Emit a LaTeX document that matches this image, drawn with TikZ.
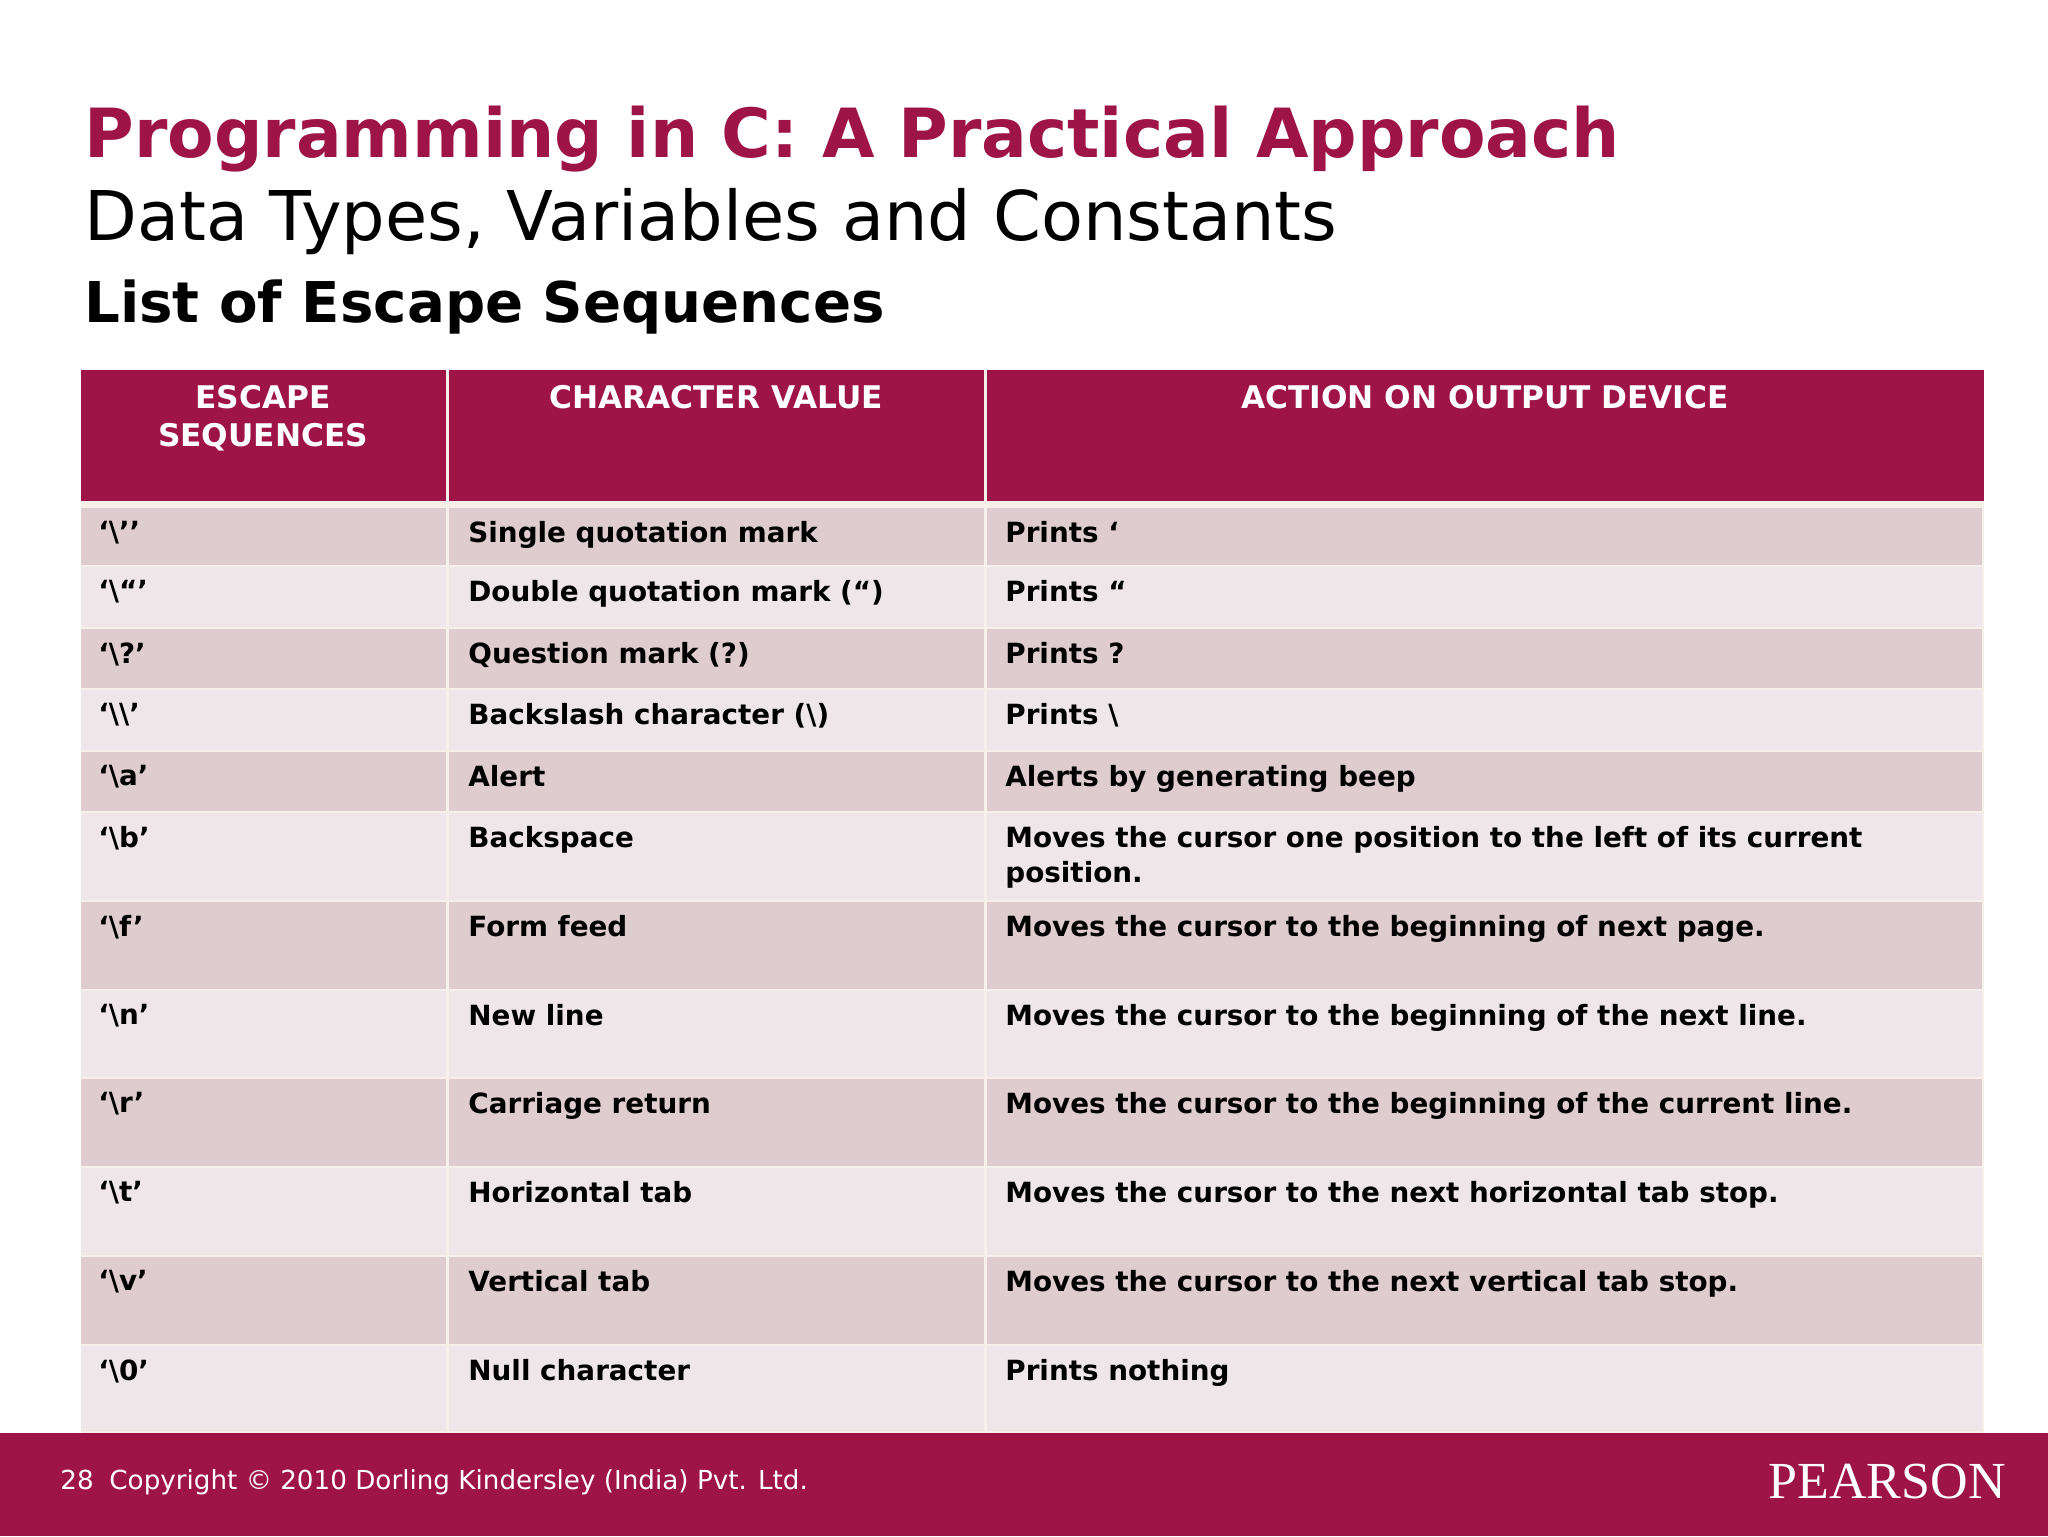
\documentclass[tikz,border=0pt]{standalone}
\usepackage{fontspec}
\setmainfont{DejaVu Sans}
\newfontfamily\logofont{Liberation Serif}
\definecolor{plum}{HTML}{9E1447}
\definecolor{rowA}{HTML}{DECCCF}
\definecolor{rowB}{HTML}{EFE6E9}
\definecolor{gapc}{HTML}{F7EFEA}
\begin{document}
\begin{tikzpicture}[x=0.5pt,y=-0.5pt,
  cell/.style={anchor=north west,inner sep=0pt,font=\bfseries\fontsize{13.9}{17.6}\selectfont,align=left},
  hcell/.style={anchor=north,inner sep=0pt,font=\bfseries\fontsize{15.6}{19}\selectfont,text=white,align=center}]
\useasboundingbox (0,0) rectangle (2048,1536);
\fill[white] (0,0) rectangle (2048,1536);
% titles
\node[anchor=base west,inner sep=0pt,text=plum,font=\bfseries\fontsize{33.9}{40}\selectfont] (t1) at (84,157) {Programming in C: A Practical Approach};
\node[anchor=base west,inner sep=0pt,font=\fontsize{34.3}{40}\selectfont] (t2) at (84,240) {Data Types, Variables and Constants};
\node[anchor=base west,inner sep=0pt,font=\bfseries\fontsize{28.1}{32}\selectfont] (t3) at (84,322) {List of Escape Sequences};
% table background
\fill[gapc] (81,370) rectangle (1984,1433);
\fill[plum] (81,370) rectangle (446,501);
\fill[plum] (449,370) rectangle (984,501);
\fill[plum] (987,370) rectangle (1984,501);
\node[hcell] (h1) at (263,385) {ESCAPE\\SEQUENCES};
\node[hcell] (h2) at (716,385) {CHARACTER VALUE};
\node[hcell] (h3) at (1485,385) {ACTION ON OUTPUT DEVICE};
\foreach \top/\bot/\c/\a/\b/\d [count=\i] in {
 508/565/rowA/{‘\textbackslash’’}/{Single quotation mark}/{Prints ‘},
 567/627/rowB/{‘\textbackslash“’}/{Double quotation mark (“)}/{Prints “},
 629/688/rowA/{‘\textbackslash?’}/{Question mark (?)}/{Prints ?},
 690/750/rowB/{‘\textbackslash\textbackslash’}/{Backslash character (\textbackslash)}/{Prints \textbackslash},
 752/811/rowA/{‘\textbackslash a’}/{Alert}/{Alerts by generating beep},
 813/900/rowB/{‘\textbackslash b’}/{Backspace}/{Moves the cursor one position to the left of its current\\position.},
 902/989/rowA/{‘\textbackslash f’}/{Form feed}/{Moves the cursor to the beginning of next page.},
 991/1077/rowB/{‘\textbackslash n’}/{New line}/{Moves the cursor to the beginning of the next line.},
 1079/1166/rowA/{‘\textbackslash r’}/{Carriage return}/{Moves the cursor to the beginning of the current line.},
 1168/1255/rowB/{‘\textbackslash t’}/{Horizontal tab}/{Moves the cursor to the next horizontal tab stop.},
 1257/1344/rowA/{‘\textbackslash v’}/{Vertical tab}/{Moves the cursor to the next vertical tab stop.},
 1346/1431/rowB/{‘\textbackslash 0’}/{Null character}/{Prints nothing}}{
  \fill[\c] (81,\top) rectangle (446,\bot);
  \fill[\c] (449,\top) rectangle (984,\bot);
  \fill[\c] (987,\top) rectangle (1982,\bot);
  \node[cell] (a\i) at (98,\top+13) {\a};
  \node[cell] (b\i) at (468,\top+13) {\b};
  \node[cell] (c\i) at (1005,\top+13) {\d};
}
% footer
\fill[plum] (0,1433) rectangle (2048,1536);
\node[anchor=west,inner sep=0pt,text=white,font=\fontsize{13.1}{16}\selectfont] (ft) at (60,1482) {28\hspace{0.6em}Copyright © 2010 Dorling Kindersley (India) Pvt. Ltd.};
\node[anchor=east,inner sep=0pt,text=white,font=\logofont\fontsize{26}{30}\selectfont] (logo) at (2006,1482) {PEARSON};
\end{tikzpicture}
\end{document}
